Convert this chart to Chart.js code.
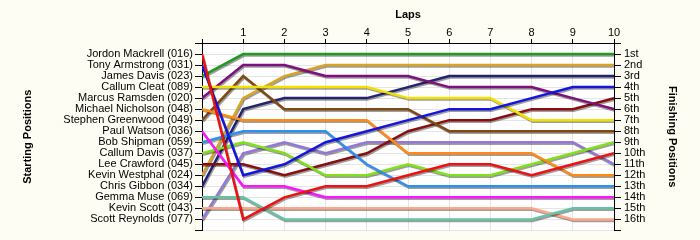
<!DOCTYPE html>
<html>
<head>
<meta charset="utf-8">
<script src="https://cdn.jsdelivr.net/npm/chart.js@4.4.1/dist/chart.umd.min.js"></script>
<style>
  html, body { margin: 0; padding: 0; background: #fdfdf3; }
  #lap-chart { display: block; }
</style>
</head>
<body>
<canvas id="lap-chart" width="700" height="240"></canvas>
<script>
// lap 0 = grid position, laps 1..10
const laps = [0, 1, 2, 3, 4, 5, 6, 7, 8, 9, 10];
const startNames = [
  "Jordon Mackrell (016)", "Tony Armstrong (031)", "James Davis (023)",
  "Callum Cleat (089)", "Marcus Ramsden (020)", "Michael Nicholson (048)",
  "Stephen Greenwood (049)", "Paul Watson (036)", "Bob Shipman (059)",
  "Callum Davis (037)", "Lee Crawford (045)", "Kevin Westphal (024)",
  "Chris Gibbon (034)", "Gemma Muse (069)", "Kevin Scott (043)",
  "Scott Reynolds (077)",
];
const finishLabels = [
  "1st", "2nd", "3rd", "4th", "5th", "6th", "7th", "8th",
  "9th", "10th", "11th", "12th", "13th", "14th", "15th", "16th",
];

const mackrell = [1, 16, 14, 13, 13, 12, 11, 11, 12, 11, 10];
const armstrong = [2, 12, 11, 9, 8, 7, 6, 6, 5, 4, 4];
const jDavis = [3, 1, 1, 1, 1, 1, 1, 1, 1, 1, 1];
const cleat = [4, 4, 4, 4, 4, 5, 5, 5, 7, 7, 7];
const ramsden = [5, 2, 2, 3, 3, 3, 4, 4, 4, 5, 6];
const nicholson = [6, 7, 7, 7, 7, 10, 10, 10, 10, 12, 12];
const greenwood = [7, 3, 6, 6, 6, 6, 8, 8, 8, 8, 8];
const watson = [8, 13, 13, 14, 14, 14, 14, 14, 14, 14, 14];
const shipman = [9, 8, 8, 8, 11, 13, 13, 13, 13, 13, 13];
const cDavis = [10, 9, 10, 12, 12, 11, 12, 12, 11, 10, 9];
const crawford = [11, 11, 12, 11, 10, 8, 7, 7, 6, 6, 5];
const westphal = [12, 5, 3, 2, 2, 2, 2, 2, 2, 2, 2];
const gibbon = [13, 6, 5, 5, 5, 4, 3, 3, 3, 3, 3];
const muse = [14, 14, 16, 16, 16, 16, 16, 16, 16, 15, 15];
const scott = [15, 15, 15, 15, 15, 15, 15, 15, 15, 16, 16];
const reynolds = [16, 10, 9, 10, 9, 9, 9, 9, 9, 9, 11];

const driverPositions = [
  mackrell, armstrong, jDavis, cleat, ramsden, nicholson, greenwood, watson,
  shipman, cDavis, crawford, westphal, gibbon, muse, scott, reynolds,
];
const lineColors = [
  "#ee1111", "#1515e0", "#1f9a1f", "#f2e000", "#7d107d", "#ff8a14",
  "#7e4a14", "#ff14ff", "#2f90f0", "#80e01a", "#8a0e0e", "#d8a424",
  "#232370", "#66c2a2", "#ffa688", "#9378d8",
];

const bgPlugin = {
  id: "bg",
  beforeDraw(chart) {
    const { ctx, chartArea } = chart;
    ctx.save();
    ctx.fillStyle = "#fdfdf3";
    ctx.fillRect(0, 0, chart.width, chart.height);
    ctx.fillStyle = "#ffffff";
    ctx.fillRect(chartArea.left, chartArea.top,
      chartArea.right - chartArea.left, chartArea.bottom - chartArea.top);
    ctx.restore();
  },
};

const shadowPlugin = {
  id: "shadow",
  beforeDatasetDraw(chart) {
    const c = chart.ctx;
    c.save();
    c.shadowColor = "rgba(0,0,0,0.38)";
    c.shadowOffsetX = 1;
    c.shadowOffsetY = 1.5;
    c.shadowBlur = 0;
  },
  afterDatasetDraw(chart) {
    chart.ctx.restore();
  },
};

const tickFont = { family: "'Liberation Sans', Arial, sans-serif", size: 11 };
const titleFont = { family: "'Liberation Sans', Arial, sans-serif", size: 11, weight: "bold" };

const lapChart = new Chart(document.getElementById("lap-chart").getContext("2d"), {
  type: "line",
  data: {
    datasets: driverPositions.map((pos, i) => ({
      label: startNames[i],
      data: pos.map((p, lap) => ({ x: laps[lap], y: p })),
      borderColor: lineColors[i],
      borderWidth: 2.5,
      pointRadius: 0,
      tension: 0,
      fill: false,
    })),
  },
  options: {
    responsive: false,
    devicePixelRatio: 1,
    animation: false,
    layout: { padding: 0 },
    plugins: {
      legend: { display: false },
      tooltip: { enabled: false },
    },
    scales: {
      x: {
        type: "linear",
        position: "top",
        min: 0,
        max: 10,
        afterFit(scale) { scale.height = 43; },
        ticks: {
          stepSize: 1,
          color: "#000",
          font: tickFont,
          padding: -1,
          callback: (v) => (v === 0 ? "" : v),
        },
        grid: { color: "#e4e4e4", tickColor: "#000", tickLength: 4 },
        border: { color: "#000", width: 1 },
        title: { display: true, text: "Laps", color: "#000", font: titleFont, padding: { top: 8, bottom: 0 } },
      },
      y: {
        type: "linear",
        position: "left",
        reverse: true,
        min: 0,
        max: 17,
        afterFit(scale) { scale.width = 202; },
        ticks: {
          stepSize: 1,
          autoSkip: false,
          color: "#000",
          font: tickFont,
          padding: 2,
          callback: (v) => startNames[v - 1] || "",
        },
        grid: { color: "#e4e4e4", tickColor: "#000", tickLength: 7 },
        border: { color: "#000", width: 1 },
        title: { display: true, text: "Starting Positions", color: "#000", font: titleFont, padding: { top: 21, bottom: 0 } },
      },
      y2: {
        type: "linear",
        position: "right",
        reverse: true,
        min: 0,
        max: 17,
        afterFit(scale) { scale.width = 86; },
        ticks: {
          stepSize: 1,
          autoSkip: false,
          color: "#000",
          font: tickFont,
          padding: 3,
          callback: (v) => finishLabels[v - 1] || "",
        },
        grid: { drawOnChartArea: false, tickColor: "#000", tickLength: 7 },
        border: { color: "#000", width: 1 },
        title: { display: true, text: "Finishing Positions", color: "#000", font: titleFont, padding: { top: 21, bottom: 0 } },
      },
    },
  },
  plugins: [bgPlugin, shadowPlugin],
});
</script>
</body>
</html>
